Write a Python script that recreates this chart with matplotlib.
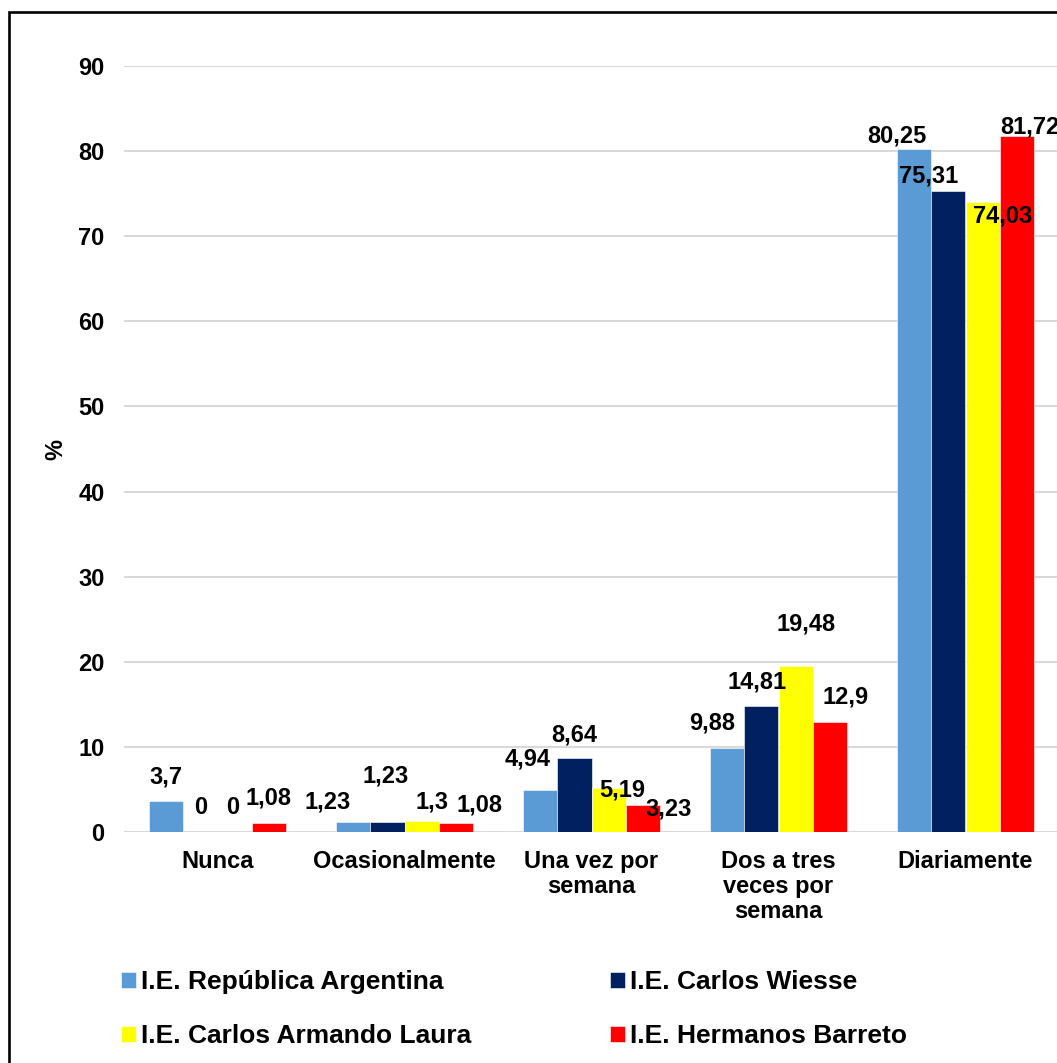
import matplotlib
matplotlib.use("Agg")
import matplotlib.pyplot as plt
from matplotlib.patches import Rectangle
import numpy as np

plt.rcParams['font.family'] = ['Liberation Sans', 'DejaVu Sans']
plt.rcParams['font.weight'] = 'bold'

categories = ["Nunca", "Ocasionalmente", "Una vez por\nsemana",
              "Dos a tres\nveces por\nsemana", "Diariamente"]
series_names = ["I.E. República Argentina", "I.E. Carlos Wiesse",
                "I.E. Carlos Armando Laura", "I.E. Hermanos Barreto"]
republica = [3.7, 1.23, 4.94, 9.88, 80.25]
wiesse = [0, 1.23, 8.64, 14.81, 75.31]
laura = [0, 1.3, 5.19, 19.48, 74.03]
barreto = [1.08, 1.08, 3.23, 12.9, 81.72]
label_texts = [
    ["3,7", "1,23", "4,94", "9,88", "80,25"],
    ["0", "1,23", "8,64", "14,81", "75,31"],
    ["0", "1,3", "5,19", "19,48", "74,03"],
    ["1,08", "1,08", "3,23", "12,9", "81,72"],
]
yticks = [0, 10, 20, 30, 40, 50, 60, 70, 80, 90]

colors = ["#5B9BD5", "#002060", "#FFFF00", "#FF0000"]
# label offsets in pixels (dx, dy) from bar top centre, per series per category
label_offsets = [
    [(-1, 24), (-26, 20), (-13, 31), (-15, 25), (-18, 13)],
    [(0, 25), (-1.5, 46), (0, 23), (-4, 24), (-20, 15)],
    [(-2, 25), (10, 19), (14, -2), (11, 42), (20, -14)],
    [(0, 25), (24, 18), (26, -4), (16, 25), (13, 9)],
]

W, H = 1057, 1063
fig = plt.figure(figsize=(W / 100, H / 100), dpi=100)
ax = fig.add_axes([124 / W, 1 - 832 / H, 935 / W, 766 / H])

all_series = [republica, wiesse, laura, barreto]
x = np.arange(len(categories))
bw = 0.182
handles = []
for i, vals in enumerate(all_series):
    pos = x + (i - 1.5) * bw
    b = ax.bar(pos, vals, width=bw, color=colors[i], edgecolor="white",
               linewidth=0.4, zorder=2, label=series_names[i])
    handles.append(b)
    for j, v in enumerate(vals):
        dx, dy = label_offsets[i][j]
        ax.annotate(label_texts[i][j], (pos[j], v), xytext=(dx, dy),
                    textcoords="offset pixels", ha="center", va="center",
                    fontsize=17, fontweight="bold", color="black",
                    zorder=5, annotation_clip=False)

ax.set_xlim(-0.5, len(categories) - 0.5)
ax.set_ylim(0, 90)
ax.set_yticks(yticks)
ax.set_yticklabels([str(t) for t in yticks])
ax.set_xticks(x)
ax.set_xticklabels(categories, linespacing=1.1)
ax.tick_params(axis="both", length=0, labelsize=17)
ax.tick_params(axis="y", pad=14)
ax.tick_params(axis="x", pad=13)
for lab in ax.get_xticklabels() + ax.get_yticklabels():
    lab.set_fontweight("bold")
ax.yaxis.grid(True, color="#D9D9D9", linewidth=1.5, zorder=0)
ax.set_axisbelow(True)
for s in ax.spines.values():
    s.set_visible(False)

fig.text(56 / W, 1 - 449 / H, "%", rotation=90, ha="center", va="center",
         fontsize=17, fontweight="bold")

# row-wise legend order: (rep, wiesse) / (laura, barreto)
order = [0, 2, 1, 3]
fig.legend(handles=[handles[k] for k in order], loc="upper left",
           bbox_to_anchor=(121 / W, 1 - 970 / H), ncol=2, frameon=False,
           prop={"size": 19, "weight": "bold"},
           handlelength=0.55, handleheight=0.55, handletextpad=0.22,
           columnspacing=5.25, labelspacing=1.15, borderpad=0, borderaxespad=0)

fig.patches.append(Rectangle((9 / W, -0.1), 2, 1.1 - 12 / H,
                             transform=fig.transFigure, fill=False,
                             edgecolor="black", linewidth=1.9))

fig.savefig("out.png", dpi=100)
